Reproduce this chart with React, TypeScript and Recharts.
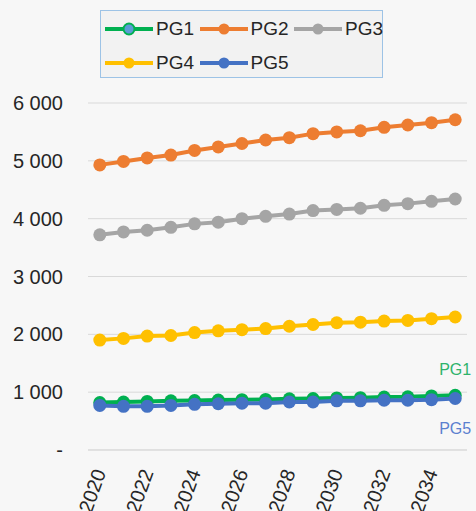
import React from 'react'
import { LineChart, Line, XAxis, YAxis, CartesianGrid } from 'recharts'

const years = ['2020', '2021', '2022', '2023', '2024', '2025', '2026', '2027', '2028', '2029', '2030', '2031', '2032', '2033', '2034', '2035']
const pg1 = [820, 830, 840, 850, 855, 865, 870, 875, 885, 890, 900, 905, 915, 920, 935, 945]
const pg2 = [4930, 4990, 5050, 5100, 5180, 5240, 5300, 5360, 5400, 5470, 5500, 5520, 5580, 5620, 5660, 5710]
const pg3 = [3720, 3770, 3800, 3850, 3910, 3940, 4000, 4040, 4080, 4140, 4160, 4180, 4230, 4260, 4300, 4340]
const pg4 = [1900, 1930, 1970, 1980, 2030, 2060, 2080, 2100, 2140, 2170, 2200, 2210, 2230, 2240, 2270, 2300]
const pg5 = [770, 755, 755, 770, 790, 800, 810, 810, 830, 830, 850, 850, 860, 860, 870, 890]
const yTicks = [0, 1000, 2000, 3000, 4000, 5000, 6000]

const series = [
  { key: 'PG1', color: '#00b050', legendDot: '#5b9bd5' },
  { key: 'PG2', color: '#ed7d31', legendDot: '#ed7d31' },
  { key: 'PG3', color: '#a5a5a5', legendDot: '#a5a5a5' },
  { key: 'PG4', color: '#ffc000', legendDot: '#ffc000' },
  { key: 'PG5', color: '#4472c4', legendDot: '#4472c4' },
]

const data = years.map((year, i) => ({
  year,
  PG1: pg1[i],
  PG2: pg2[i],
  PG3: pg3[i],
  PG4: pg4[i],
  PG5: pg5[i],
}))

const FONT = '"Liberation Sans", Arial, sans-serif'
const last = years.length - 1

const fmt = (v: number) => (v === 0 ? '-' : String(v).replace(/\B(?=(\d{3})+(?!\d))/g, ' '))

function XTick({ x, y, payload }: any) {
  return (
    <g transform={`translate(${x},${y})`}>
      <text textAnchor="end" transform="rotate(-70)" dy="0.35em" fontSize={20} fill="#262626" fontFamily={FONT}>
        {payload.value}
      </text>
    </g>
  )
}

// series name at the right end, above for PG1 and below for PG5
const endLabel = (name: string, color: string, dy: number) => (props: any) => {
  if (props.index !== last) return <g key={`${name}-${props.index}`} />
  return (
    <text key={name} x={props.x + 16} y={props.y + dy} textAnchor="end" fontSize={16} fill={color} fontFamily={FONT}>
      {name}
    </text>
  )
}

function LegendBox() {
  return (
    <div
      style={{
        position: 'absolute',
        left: 100,
        top: 10,
        width: 283,
        height: 68,
        border: '1px solid #9dc3e6',
        background: '#f2f2f2',
        fontFamily: FONT,
        fontSize: 19,
        color: '#262626',
        boxSizing: 'border-box',
      }}
    >
      {series.map((s, i) => (
        <div
          key={s.key}
          style={{
            position: 'absolute',
            left: 3 + (i % 3) * 94.5,
            top: i < 3 ? 7 : 41,
            height: 22,
            display: 'flex',
            alignItems: 'center',
            whiteSpace: 'nowrap',
          }}
        >
          <svg width={52} height={16} style={{ flex: 'none' }}>
            <line x1={1} y1={8} x2={49} y2={8} stroke={s.color} strokeWidth={4} />
            <circle cx={25} cy={8} r={5.5} fill={s.legendDot} stroke={s.color} strokeWidth={s.key === 'PG1' ? 2 : 0} />
          </svg>
          <span>{s.key}</span>
        </div>
      ))}
    </div>
  )
}

export default function App() {
  return (
    <div style={{ position: 'absolute', left: 0, top: 0, width: 476, height: 511, background: '#f7f7f7', overflow: 'hidden' }}>
      <LineChart width={476} height={511} data={data} margin={{ top: 103, right: 9, bottom: 0, left: 0 }}>
        <CartesianGrid stroke="#d9d9d9" vertical={false} />
        <XAxis
          dataKey="year"
          interval={1}
          height={61}
          tickLine={false}
          tickSize={0}
          tickMargin={20}
          axisLine={{ stroke: '#d9d9d9' }}
          padding={{ left: 11.8, right: 11.8 }}
          tick={<XTick />}
        />
        <YAxis
          domain={[0, 6000]}
          ticks={yTicks}
          width={88}
          axisLine={false}
          tickLine={false}
          tickSize={0}
          tickMargin={25}
          tickFormatter={fmt}
          tick={{ fill: '#262626', fontSize: 20, fontFamily: FONT }}
        />
        {series.map((s) => (
          <Line
            key={s.key}
            dataKey={s.key}
            stroke={s.color}
            strokeWidth={4}
            dot={{ r: 6.5, fill: s.color, stroke: s.color, strokeWidth: 0 }}
            activeDot={false}
            isAnimationActive={false}
            label={s.key === 'PG1' ? endLabel('PG1', '#2eb36b', -20) : s.key === 'PG5' ? endLabel('PG5', '#5b80cf', 35) : undefined}
          />
        ))}
      </LineChart>
      <LegendBox />
    </div>
  )
}
